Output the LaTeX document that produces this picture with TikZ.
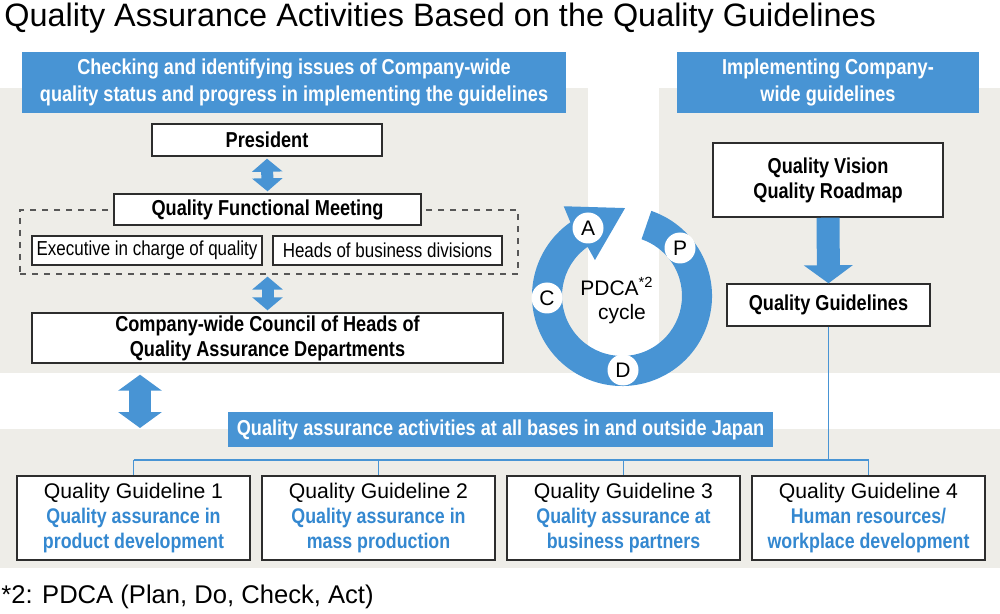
\documentclass[tikz,border=0pt]{standalone}
\usepackage{fontspec}
\setmainfont{Liberation Sans}
\newfontfamily\narrowfont[FakeStretch=0.84]{Liberation Sans}
\usetikzlibrary{arrows.meta,positioning,calc}
\definecolor{qablue}{RGB}{72,148,212}
\definecolor{qatext}{RGB}{52,136,208}
\definecolor{qagray}{RGB}{238,237,232}
\definecolor{qaline}{RGB}{45,45,45}
\tikzset{
    panel/.style={fill=qagray,draw=none},
    head/.style={
        fill=qablue,draw=none,text=white,align=center,inner sep=0pt,
        font=\narrowfont\bfseries\fontsize{10.8}{13.5}\selectfont
    },
    box/.style={
        draw=qaline,line width=0.7pt,fill=white,align=center,inner sep=0pt,
        font=\narrowfont\bfseries\fontsize{10.8}{12.5}\selectfont
    },
    subbox/.style={box,font=\narrowfont\fontsize{10.1}{11}\selectfont},
    guide/.style={box,font=\fontsize{10.6}{12.3}\selectfont},
    letter/.style={circle,fill=white,inner sep=0pt,minimum size=15.5pt,
        font=\fontsize{10.5}{12}\selectfont},
    twoway/.style={qablue,line width=6pt,
        {Triangle[width=15pt,length=6.5pt]}-{Triangle[width=15pt,length=6.5pt]}},
    bigtwoway/.style={qablue,line width=11pt,
        {Triangle[width=21.5pt,length=8pt]}-{Triangle[width=21.5pt,length=8pt]}},
    down/.style={qablue,line width=11.5pt,-{Triangle[width=24pt,length=9pt]}},
    link/.style={qablue,line width=0.9pt}
}
\newcommand{\gline}[3]{#1\\\textcolor{qatext}{\narrowfont\bfseries\fontsize{10.6}{12.3}\selectfont #2}\\
\textcolor{qatext}{\narrowfont\bfseries\fontsize{10.6}{12.3}\selectfont #3}}

\begin{document}
\begin{tikzpicture}[x=0.5pt,y=-0.5pt]
\useasboundingbox (0,0) rectangle (1000,614);

% background panels
\fill[panel] (0,88) rectangle (588,373);
\fill[panel] (659,88) rectangle (1000,373);
\fill[panel] (0,429) rectangle (1000,568);

\node[anchor=west,inner sep=0pt,font=\fontsize{16.2}{18}\selectfont] (title) at (4,18)
{Quality Assurance Activities Based on the Quality Guidelines};

% left side
\node[head,minimum width=272pt,minimum height=30.5pt] (check) at (294,82.5)
{Checking and identifying issues of Company-wide\\
quality status and progress in implementing the guidelines};

\node[box,minimum width=115pt,minimum height=16pt] (pres) at (267,140) {President};
\node[draw=qaline!80,dashed,line width=0.6pt,minimum width=249pt,minimum height=32pt]
(meet) at (269,242) {};
\node[box,minimum width=153.5pt,minimum height=15.5pt] (qfm) at (267.5,209.5)
{Quality Functional Meeting};
\node[subbox,minimum width=115pt,minimum height=14.5pt] (exec) at (147,250.5)
{Executive in charge of quality};
\node[subbox,minimum width=114.5pt,minimum height=14.5pt] (heads) at (387.5,250.5)
{Heads of business divisions};
\node[box,minimum width=235.5pt,minimum height=25pt] (council) at (267.5,338)
{Company-wide Council of Heads of\\Quality Assurance Departments};

\draw[twoway] ([yshift=-1pt]pres.south) -- ([yshift=1pt]qfm.north);
\draw[twoway] ([yshift=-1pt]meet.south -| council.north) -- ([yshift=1pt]council.north);

% right side
\node[head,minimum width=151pt,minimum height=30.5pt] (impl) at (828,82.5)
{Implementing Company-\\wide guidelines};
\node[box,minimum width=115pt,minimum height=37pt] (vision) at (828,180)
{Quality Vision\\Quality Roadmap};
\node[box,minimum width=101.5pt,minimum height=21pt] (qg) at (828.5,305)
{Quality Guidelines};
\draw[down] (vision.south) -- (qg.north);

% PDCA cycle
\coordinate (c) at (622,296);
\fill[qablue] ($(c)+(-71:90)$) arc[start angle=-71,end angle=235,radius=90]
  -- ($(c)+(237:107)$) -- ($(c)+(272:88)$) -- ($(c)+(233:45)$)
  -- ($(c)+(235:60)$) arc[start angle=235,end angle=-71,radius=60] -- cycle;
\node[font=\fontsize{10.5}{12}\selectfont] (pdca) at (617,286) {PDCA\textsuperscript{*2}};
\node[font=\fontsize{10.5}{12}\selectfont] (cyc) at (622,314) {cycle};
\node[letter] (la) at (588,228) {A};
\node[letter] (lp) at (680,248) {P};
\node[letter] (lc) at (547,298) {C};
\node[letter] (ld) at (623,370) {D};

% bottom
\node[head,minimum width=272.5pt,minimum height=17.5pt,
font=\narrowfont\bfseries\fontsize{10.8}{12}\selectfont] (bases) at (500.5,429.5)
{Quality assurance activities at all bases in and outside Japan};
\coordinate (bt) at (140,428);
\draw[bigtwoway] (council.south -| bt) ++(0,11) -- (bt);

\node[guide,minimum width=116.5pt,minimum height=42pt] (g1) at (133.5,518)
{\gline{Quality Guideline 1}{Quality assurance in}{product development}};
\node[guide,minimum width=116.5pt,minimum height=42pt] (g2) at (378.5,518)
{\gline{Quality Guideline 2}{Quality assurance in}{mass production}};
\node[guide,minimum width=116.5pt,minimum height=42pt] (g3) at (623.5,518)
{\gline{Quality Guideline 3}{Quality assurance at}{business partners}};
\node[guide,minimum width=116.5pt,minimum height=42pt] (g4) at (868.5,518)
{\gline{Quality Guideline 4}{Human resources/}{workplace development}};

\coordinate (bus) at (500,460);
\draw[link] (qg.south) -- (qg.south |- bus);
\draw[link] (g1.north |- bus) -- (g4.north |- bus);
\foreach \g in {g1,g2,g3,g4}
    \draw[link] (\g.north |- bus) -- (\g.north);

\node[anchor=west,inner sep=0pt,font=\fontsize{12.8}{14}\selectfont] (note) at (1,597)
{*2: PDCA (Plan, Do, Check, Act)};

\end{tikzpicture}
\end{document}
